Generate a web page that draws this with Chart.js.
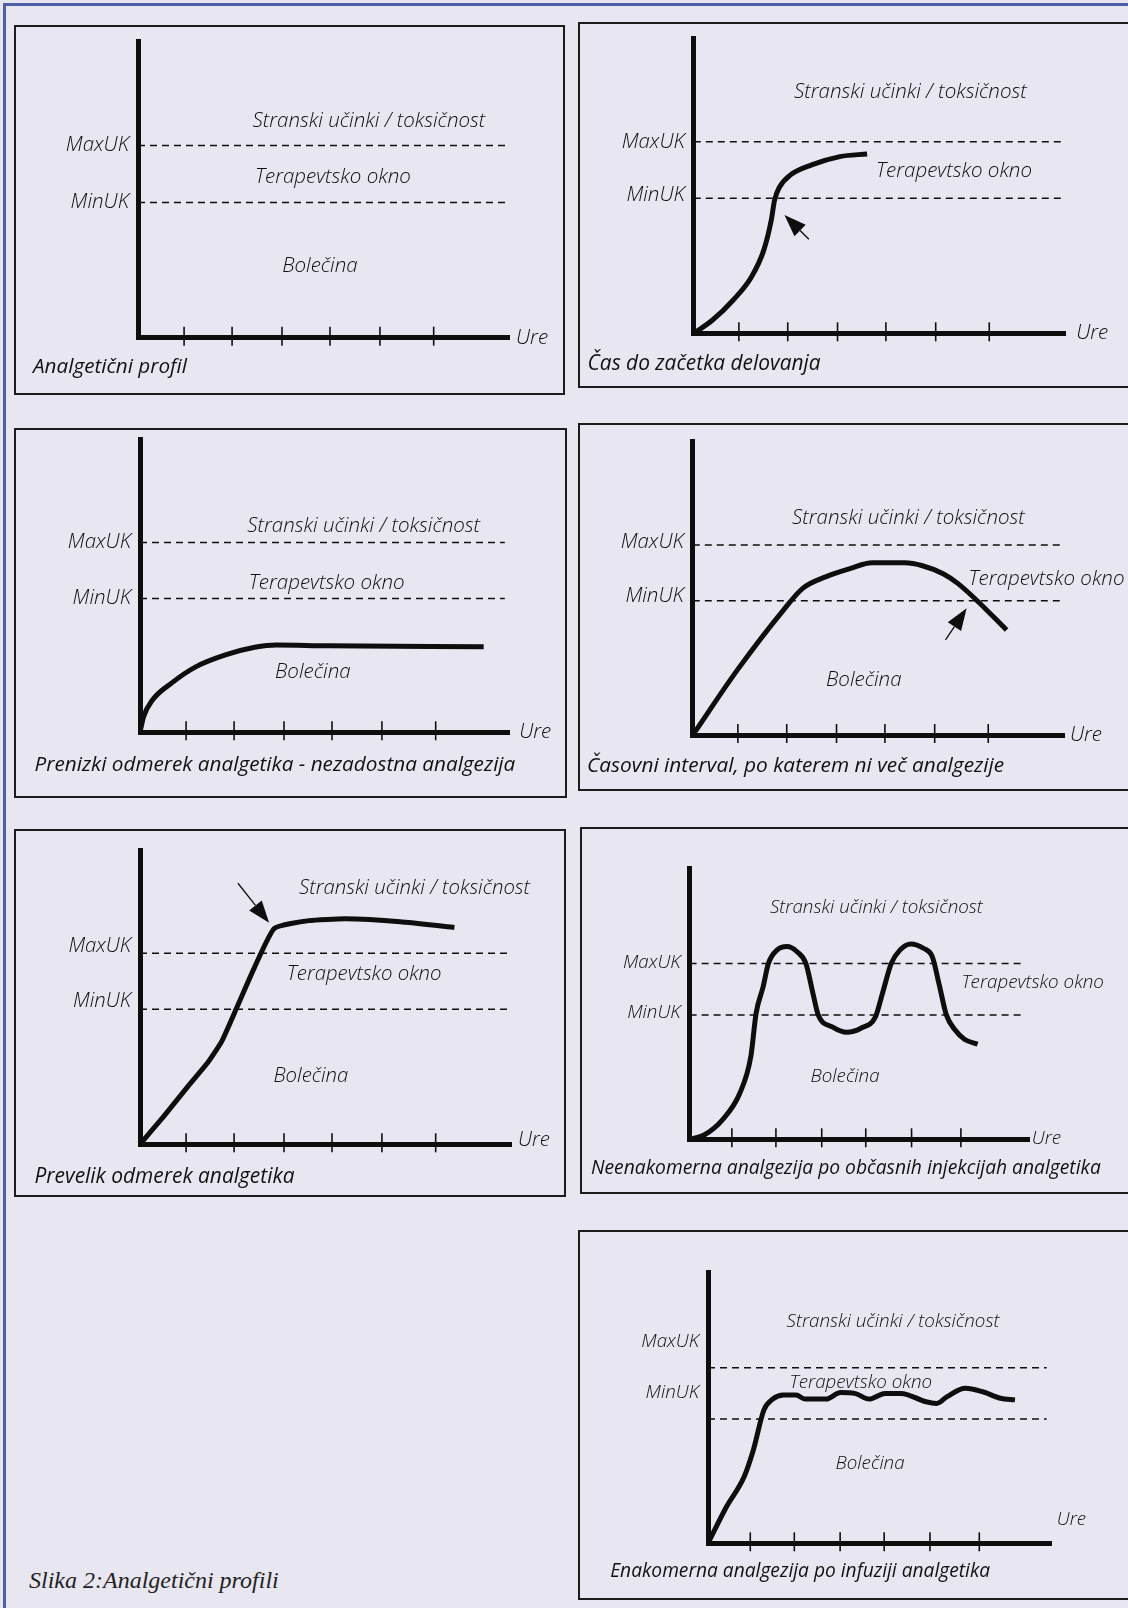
<!DOCTYPE html>
<html>
<head>
<meta charset="utf-8">
<script src="https://cdn.jsdelivr.net/npm/chart.js@4.4.1/dist/chart.umd.min.js"></script>
<style>
body { margin: 0; background: #e8e6f1; width: 1128px; height: 1608px; overflow: hidden; position: relative; font-family: "Open Sans", sans-serif; }
.frame-top { position: absolute; left: 3px; top: 3px; width: 1125px; height: 3px; background: #4d61a9; }
.frame-left { position: absolute; left: 3px; top: 3px; width: 3px; height: 1605px; background: #4d61a9; }
.panel { position: absolute; border: 2px solid #1c1c1c; box-sizing: border-box; }
.panel canvas { position: absolute; left: 0; top: 0; }
.cap { position: absolute; font-style: italic; font-weight: 400; line-height: 24px; color: #111; white-space: nowrap; }
.fig { position: absolute; left: 29px; top: 1567px; font-family: "Liberation Serif", serif; font-style: italic; font-size: 24px; color: #222; }
</style>
</head>
<body>
<div class="frame-top"></div>
<div class="frame-left"></div>
<div class="fig">Slika 2:Analgetični profili</div>
<script>
// texts
const yLabels = ["MinUK", "MaxUK"]
const regionLabels = ["Stranski učinki / toksičnost", "Terapevtsko okno", "Bolečina"]
const axisLabel = "Ure"
const captions = [
    "Analgetični profil",
    "Čas do začetka delovanja",
    "Prenizki odmerek analgetika - nezadostna analgezija",
    "Časovni interval, po katerem ni več analgezije",
    "Prevelik odmerek analgetika",
    "Neenakomerna analgezija po občasnih injekcijah analgetika",
    "Enakomerna analgezija po infuziji analgetika"
]

// x ticks (ure) as drawn; the two upper right panels space them a little wider
const xTicks = [0.96, 1.96, 3.0, 4.0, 5.04, 6.16]
const xTicksWide = [0.96, 2.0, 3.06, 4.09, 5.15, 6.29]

// MinUK / MaxUK levels (% of axis) and how far the dashed line runs (h)
const minUK = [45.7, 45.8, 45.7, 45.8, 45.9, 45.9, 45.9]
const maxUK = [64.9, 64.9, 64.8, 64.8, 64.9, 64.9, 64.9]
const levelEnd = [7.65, 7.82, 7.6, 7.84, 7.65, 7.61, 7.69]

// concentration curves: hours / level
const onsetHours = [0, 0.40, 0.84, 1.23, 1.49, 1.65, 1.72, 1.83, 2.06, 2.51, 3.11, 3.69]
const onsetLevel = [0, 4.5, 11.3, 19.2, 28.2, 38.4, 45.2, 49.7, 53.7, 57.1, 59.9, 60.8]

const lowHours = [0, 0.075, 0.26, 0.65, 1.17, 1.78, 2.39, 2.84, 3.90, 7.16]
const lowLevel = [0, 5.3, 11.0, 16.7, 22.4, 26.4, 29.0, 29.8, 29.5, 29.2]

const wearHours = [0, 0.95, 1.93, 2.34, 2.84, 3.36, 3.82, 4.51, 4.89, 5.34, 5.64, 6.02, 6.68]
const wearLevel = [0, 22.2, 42.6, 50.0, 54.0, 56.8, 58.7, 58.7, 57.7, 54.9, 51.7, 46.3, 35.8]

const highHours = [0, 0.49, 1.02, 1.40, 1.70, 2.01, 2.39, 2.80, 3.52, 4.28, 5.42, 6.55]
const highLevel = [0, 9.4, 20.1, 27.5, 34.9, 46.2, 60.3, 73.4, 76.0, 76.6, 75.6, 73.7]

const bolusHours = [0, 0.33, 0.74, 1.14, 1.39, 1.51, 1.67, 1.79, 1.99, 2.21, 2.44, 2.64, 2.80, 2.92, 3.24, 3.57, 3.89, 4.22, 4.38, 4.58, 4.78, 5.02, 5.31, 5.51, 5.67, 5.83, 6.03, 6.24, 6.54]
const bolusLevel = [0, 1.6, 7.1, 17.0, 30.5, 46.5, 56.3, 64.9, 69.9, 71.1, 69.2, 64.9, 53.9, 45.9, 41.5, 39.5, 41.0, 45.2, 53.9, 64.9, 69.9, 72.1, 70.5, 67.4, 56.9, 45.9, 40.3, 36.9, 35.1]

const infHours = [0, 0.42, 0.82, 1.03, 1.27, 1.47, 1.71, 2.0, 2.2, 2.68, 3.01, 3.33, 3.66, 4.02, 4.38, 4.95, 5.19, 5.43, 5.84, 6.24, 6.64, 6.97]
const infLevel = [0, 13.5, 24.6, 34.5, 49.3, 53.3, 54.8, 54.8, 53.3, 53.3, 55.7, 55.4, 53.3, 55.4, 55.4, 52.3, 51.7, 54.2, 57.3, 56.0, 53.6, 53.0]

// layout of each panel (page px), where its words sit (h / %), and how wide its lettering runs (px)
const panels = [
    { box: [14, 25, 565, 395], axis: [138, 337.7, 41.7, 509], k: 48, tickAt: [45.7, 64.9],
      texts: [[0, 4.81, 73], [1, 4.06, 54.4], [2, 3.79, 24.3]], ure: [7.875, 0], cap: [33, 365], capW: 154, labW: 233 },
    { box: [578, 22, 1140, 388], axis: [693.8, 333.3, 38.3, 1065.2], k: 46.97, tickAt: [47, 64.9], wide: true,
      texts: [[0, 4.61, 81.9], [1, 5.54, 55.1]], ure: [8.14, 0], cap: [587.6, 361.7], capW: 233, labW: 233,
      curve: [onsetHours, onsetLevel], arrow: [2.45, 31.9, 1.93, 40.1] },
    { box: [14, 428, 567, 798], axis: [140, 732.3, 439.3, 509], k: 48, tickAt: [45.7, 64.8],
      texts: [[0, 4.66, 70.2], [1, 3.89, 50.9], [2, 3.6, 20.7]], ure: [7.9, 0], cap: [34.5, 763.3], capW: 481, labW: 233,
      curve: [lowHours, lowLevel] },
    { box: [578, 423, 1140, 791], axis: [692.8, 735, 441.7, 1064.7], k: 46.97, tickAt: [47.2, 65.6], wide: true,
      texts: [[0, 4.59, 73.9], [1, 7.53, 53.1], [2, 3.64, 18.8]], ure: [8.03, 0], cap: [587.1, 764], capW: 417, labW: 233,
      curve: [wearHours, wearLevel], arrow: [5.38, 32.4, 5.83, 43.2] },
    { box: [14, 829, 566, 1197], axis: [140, 1144.3, 850, 511], k: 48, tickAt: [48.5, 67.3],
      texts: [[0, 5.72, 87], [1, 4.67, 57.9], [2, 3.56, 23.2]], ure: [7.875, 1.5], cap: [34.5, 1175], capW: 260, labW: 231,
      curve: [highHours, highLevel], straight: true, arrow: [2.04, 88.7, 2.69, 75.3] },
    { box: [580, 827, 1140, 1194], axis: [689.6, 1139.3, 868.3, 1029], k: 44.04, tickAt: [46.9, 65.3],
      texts: [[0, 4.24, 85.6], [1, 7.79, 57.8], [2, 3.53, 23.1]], ure: [7.77, 0.4], cap: [591, 1166.7], capW: 510, labW: 213,
      curve: [bolusHours, bolusLevel] },
    { box: [578, 1230, 1140, 1600], axis: [708, 1543.3, 1272.7, 1051.5], k: 44.04, tickAt: [55.8, 74.5],
      texts: [[0, 4.2, 81.9], [1, 3.47, 59.3], [2, 3.68, 29.6]], ure: [7.92, 8.6], cap: [610.2, 1570], capW: 380, labW: 213,
      curve: [infHours, infLevel] }
]

const ink = "#0e0e0e"
const labelFace = "Open Sans"
const labelWeight = 300

// font size that makes a string run to a given width
const meas = document.createElement("canvas").getContext("2d")
function fitSize(text, width, weight) {
    meas.font = "italic " + weight + " 100px '" + labelFace + "'"
    return 100 * width / meas.measureText(text).width
}

function decor(p, size) {
    return {
        id: "decor",
        afterDatasetsDraw(chart) {
            const ctx = chart.ctx
            const xs = chart.scales.x, ys = chart.scales.y
            const X = v => xs.getPixelForValue(v)
            const Y = v => ys.getPixelForValue(v)
            ctx.save()
            // tick marks crossing the time axis
            ctx.strokeStyle = ink
            ctx.lineWidth = 1.6
            xs.ticks.forEach(t => {
                const px = X(t.value)
                ctx.beginPath()
                ctx.moveTo(px, ys.bottom - 11)
                ctx.lineTo(px, ys.bottom + 8)
                ctx.stroke()
            })
            ctx.fillStyle = ink
            ctx.font = "italic " + labelWeight + " " + size + "px '" + labelFace + "'"
            ctx.textBaseline = "middle"
            ctx.textAlign = "center"
            p.texts.forEach(t => ctx.fillText(regionLabels[t[0]], X(t[1]), Y(t[2])))
            ctx.textAlign = "left"
            ctx.fillText(axisLabel, X(p.ure[0]), Y(p.ure[1]))
            if (p.arrow) {
                const ax = X(p.arrow[0]), ay = Y(p.arrow[1])
                const bx = X(p.arrow[2]), by = Y(p.arrow[3])
                const a = Math.atan2(by - ay, bx - ax)
                const len = 22, w = 8
                const cx = bx - len * Math.cos(a), cy = by - len * Math.sin(a)
                ctx.lineWidth = 1.3
                ctx.beginPath()
                ctx.moveTo(ax, ay)
                ctx.lineTo(cx, cy)
                ctx.stroke()
                ctx.beginPath()
                ctx.moveTo(bx, by)
                ctx.lineTo(cx + w * Math.sin(a), cy - w * Math.cos(a))
                ctx.lineTo(cx - w * Math.sin(a), cy + w * Math.cos(a))
                ctx.closePath()
                ctx.fill()
            }
            ctx.restore()
        }
    }
}

panels.forEach((p, n) => {
    const W = p.box[2] - p.box[0], H = p.box[3] - p.box[1]
    const div = document.createElement("div")
    div.className = "panel"
    div.style.left = p.box[0] + "px"
    div.style.top = p.box[1] + "px"
    div.style.width = W + "px"
    div.style.height = H + "px"
    const cv = document.createElement("canvas")
    cv.width = W - 4
    cv.height = H - 4
    div.appendChild(cv)
    document.body.appendChild(div)

    const capSize = fitSize(captions[n], p.capW, 400)
    const cap = document.createElement("div")
    cap.className = "cap"
    cap.textContent = captions[n]
    cap.style.fontSize = capSize.toFixed(2) + "px"
    cap.style.left = p.cap[0] + "px"
    cap.style.top = (p.cap[1] - 12) + "px"
    document.body.appendChild(cap)

    const size = fitSize(regionLabels[0], p.labW, labelWeight)
    const ticks = p.wide ? xTicksWide : xTicks

    const ox = p.box[0] + 2, oy = p.box[1] + 2
    const left = p.axis[0] - ox, bottom = p.axis[1] - oy
    const top = p.axis[2] - oy, right = p.axis[3] - ox
    const xMax = (p.axis[3] - p.axis[0]) / p.k

    const dashed = v => ({
        data: [{ x: 0, y: v }, { x: levelEnd[n], y: v }],
        borderColor: ink,
        borderWidth: 1.5,
        borderDash: [7, 5],
        pointRadius: 0
    })
    const datasets = [dashed(maxUK[n]), dashed(minUK[n])]
    if (p.curve) {
        datasets.push({
            data: p.curve[0].map((h, i) => ({ x: h, y: p.curve[1][i] })),
            borderColor: ink,
            borderWidth: 5,
            pointRadius: 0,
            borderJoinStyle: "round",
            cubicInterpolationMode: p.straight ? "default" : "monotone",
            tension: p.straight ? 0.15 : 0.4
        })
    }

    new Chart(cv, {
        type: "line",
        data: { datasets: datasets },
        options: {
            responsive: false,
            animation: false,
            events: [],
            layout: { padding: { top: top, right: (W - 4) - right, left: 0, bottom: 0 } },
            plugins: { legend: { display: false }, tooltip: { enabled: false } },
            scales: {
                x: {
                    type: "linear",
                    min: 0,
                    max: xMax,
                    afterBuildTicks: s => { s.ticks = ticks.map(v => ({ value: v })) },
                    afterFit: s => { s.height = (H - 4) - bottom; s.paddingLeft = 0; s.paddingRight = 0 },
                    ticks: { display: false },
                    grid: { display: false, drawTicks: false },
                    border: { color: ink, width: 5 }
                },
                y: {
                    type: "linear",
                    min: 0,
                    max: 100,
                    afterBuildTicks: s => { s.ticks = p.tickAt.map(v => ({ value: v })) },
                    afterFit: s => { s.width = left; s.paddingTop = 0; s.paddingBottom = 0 },
                    ticks: {
                        callback: (v, i) => yLabels[i],
                        font: { family: labelFace, style: "italic", weight: labelWeight, size: size },
                        color: ink,
                        padding: 9
                    },
                    grid: { display: false, drawTicks: false },
                    border: { color: ink, width: 5 }
                }
            }
        },
        plugins: [decor(p, size)]
    })
})
</script>
</body>
</html>
